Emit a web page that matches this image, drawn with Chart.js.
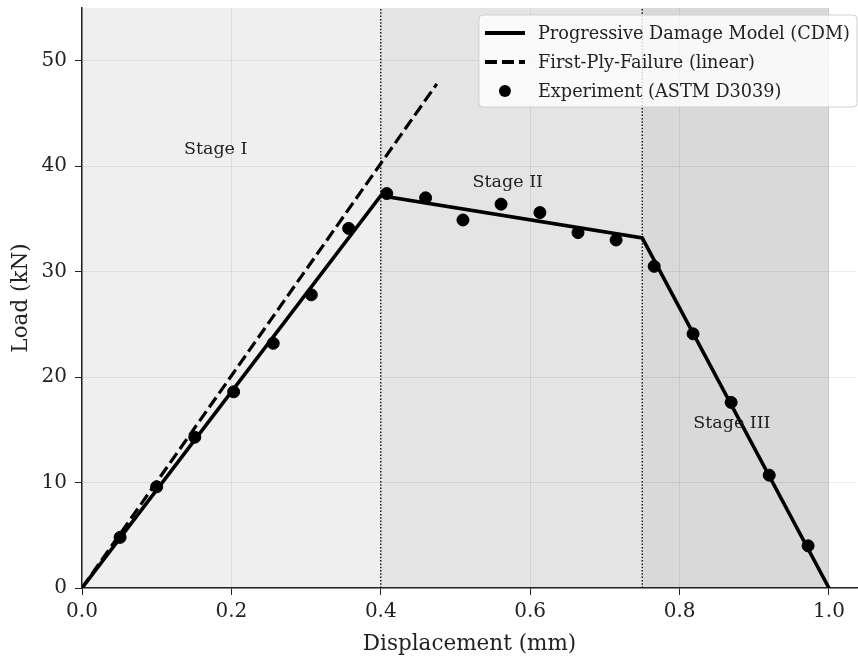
<!DOCTYPE html>
<html>
<head>
<meta charset="utf-8">
<script src="https://cdn.jsdelivr.net/npm/chart.js@4.4.1/dist/chart.umd.min.js"></script>
<style>
  html, body { margin: 0; padding: 0; background: #fff; overflow: hidden; }
  #wrap { width: 858px; height: 661px; position: relative; }
</style>
</head>
<body>
<div id="wrap"><canvas id="chart"></canvas></div>
<script>
// progressive damage model (piecewise linear)
const modelX = [0, 0.4, 0.75, 1.0];
const modelY = [0, 37.2, 33.2, 0];

// first-ply-failure linear prediction
const fpfX = [0, 0.475];
const fpfY = [0, 47.8];

// experimental points (ASTM D3039)
const expX = [0.051, 0.100, 0.151, 0.203, 0.256, 0.307, 0.357, 0.408, 0.460, 0.510,
              0.561, 0.613, 0.664, 0.715, 0.766, 0.818, 0.869, 0.920, 0.972];
const expY = [4.8, 9.6, 14.3, 18.6, 23.2, 27.8, 34.1, 37.4, 37.0, 34.9,
              36.4, 35.6, 33.7, 33.0, 30.5, 24.1, 17.6, 10.7, 4.0];

// stages
const stageBounds = [0, 0.4, 0.75, 1.0];
const stageNames = ['Stage I', 'Stage II', 'Stage III'];
const stageLabelX = [0.179, 0.570, 0.870];
const stageLabelY = [41.6, 38.5, 15.6];
const stageColors = ['#efefef', '#e4e4e4', '#d9d9d9'];

const xTicks = [0, 0.2, 0.4, 0.6, 0.8, 1.0];
const yTicks = [0, 10, 20, 30, 40, 50];

const legendNames = ['Progressive Damage Model (CDM)', 'First-Ply-Failure (linear)', 'Experiment (ASTM D3039)'];

const FONT = "'DejaVu Serif', serif";
const toPts = (xs, ys) => xs.map((x, i) => ({ x: x, y: ys[i] }));

const stages = {
  id: 'stages',
  beforeDraw(chart) {
    const { ctx, chartArea, scales: { x, y } } = chart;
    ctx.save();
    for (let i = 0; i < stageNames.length; i++) {
      const x0 = x.getPixelForValue(stageBounds[i]);
      const x1 = x.getPixelForValue(stageBounds[i + 1]);
      ctx.fillStyle = stageColors[i];
      ctx.fillRect(x0, chartArea.top, x1 - x0, chartArea.bottom - chartArea.top);
    }
    ctx.restore();
  },
  afterDatasetsDraw(chart) {
    const { ctx, scales: { x, y } } = chart;
    ctx.save();
    ctx.font = '17.5px ' + FONT;
    ctx.fillStyle = '#222';
    ctx.textAlign = 'center';
    ctx.textBaseline = 'middle';
    stageNames.forEach((s, i) => {
      ctx.fillText(s, x.getPixelForValue(stageLabelX[i]), y.getPixelForValue(stageLabelY[i]));
    });
    ctx.restore();
  }
};

const legendBox = {
  id: 'legendBox',
  afterDraw(chart) {
    const { ctx, chartArea } = chart;
    ctx.save();
    ctx.font = '17.7px ' + FONT;
    const tw = Math.max(...legendNames.map(t => ctx.measureText(t).width));
    const right = chartArea.right;
    const left = right - (tw + 66);
    const top = chartArea.top + 7;
    const h = 92;
    ctx.beginPath();
    ctx.roundRect(left, top, right - left, h, 4);
    ctx.fillStyle = 'rgba(255,255,255,0.8)';
    ctx.fill();
    ctx.strokeStyle = '#d0d0d0';
    ctx.lineWidth = 1;
    ctx.stroke();

    const rows = [top + 18, top + 47, top + 76];
    ctx.strokeStyle = '#000';
    ctx.lineWidth = 3.8;
    ctx.beginPath();
    ctx.moveTo(left + 6, rows[0]);
    ctx.lineTo(left + 46, rows[0]);
    ctx.stroke();
    ctx.setLineDash([12, 5]);
    ctx.beginPath();
    ctx.moveTo(left + 6, rows[1]);
    ctx.lineTo(left + 46, rows[1]);
    ctx.stroke();
    ctx.setLineDash([]);
    ctx.fillStyle = '#000';
    ctx.beginPath();
    ctx.arc(left + 26, rows[2], 6, 0, Math.PI * 2);
    ctx.fill();

    ctx.fillStyle = '#222';
    ctx.textBaseline = 'middle';
    legendNames.forEach((t, i) => ctx.fillText(t, left + 59, rows[i] + 1));
    ctx.restore();
  }
};

new Chart(document.getElementById('chart'), {
  type: 'line',
  data: {
    datasets: [
      {
        type: 'scatter',
        data: toPts(expX, expY),
        backgroundColor: '#000',
        borderColor: '#000',
        pointRadius: 6,
        pointHoverRadius: 6,
        order: 0
      },
      {
        data: toPts(modelX, modelY),
        borderColor: '#000',
        borderWidth: 3.6,
        pointRadius: 0,
        tension: 0,
        order: 1
      },
      {
        data: toPts(fpfX, fpfY),
        borderColor: '#000',
        borderWidth: 3.2,
        borderDash: [12, 5],
        pointRadius: 0,
        tension: 0,
        order: 2
      },
      {
        data: toPts([stageBounds[1], stageBounds[1]], [0, 55]),
        borderColor: '#000',
        borderWidth: 1.3,
        borderDash: [1.5, 1.8],
        pointRadius: 0,
        order: 3
      },
      {
        data: toPts([stageBounds[2], stageBounds[2]], [0, 55]),
        borderColor: '#000',
        borderWidth: 1.3,
        borderDash: [1.5, 1.8],
        pointRadius: 0,
        order: 3
      }
    ]
  },
  options: {
    animation: false,
    responsive: true,
    maintainAspectRatio: false,
    events: [],
    layout: {
      autoPadding: false,
      padding: { top: 8, right: 1, left: 0, bottom: 0 }
    },
    plugins: {
      legend: { display: false },
      tooltip: { enabled: false }
    },
    scales: {
      x: {
        type: 'linear',
        min: 0,
        max: 1.0375,
        afterBuildTicks(scale) {
          scale.ticks = xTicks.map(v => ({ value: v }));
        },
        afterFit(scale) {
          scale.height = 73;
          scale.paddingLeft = 0;
          scale.paddingRight = 0;
        },
        ticks: {
          callback: v => v.toFixed(1),
          color: '#222',
          padding: 5,
          maxRotation: 0,
          font: { family: FONT, size: 20 }
        },
        grid: {
          color: 'rgba(0,0,0,0.07)',
          tickColor: '#222',
          tickLength: 7,
          lineWidth: 1
        },
        border: { display: true, color: '#222', width: 1.5 },
        title: {
          display: true,
          text: 'Displacement (mm)',
          color: '#222',
          font: { family: FONT, size: 21.5 },
          padding: { top: 0, bottom: 4 }
        }
      },
      y: {
        type: 'linear',
        min: 0,
        max: 55,
        afterBuildTicks(scale) {
          scale.ticks = yTicks.map(v => ({ value: v }));
        },
        afterFit(scale) {
          scale.width = 82;
          scale.paddingTop = 0;
          scale.paddingBottom = 0;
        },
        ticks: {
          color: '#222',
          padding: 8,
          font: { family: FONT, size: 20 }
        },
        grid: {
          color: 'rgba(0,0,0,0.07)',
          tickColor: '#222',
          tickLength: 7,
          lineWidth: 1
        },
        border: { display: true, color: '#222', width: 1.5 },
        title: {
          display: true,
          text: 'Load (kN)',
          color: '#222',
          font: { family: FONT, size: 21.5 },
          padding: { top: 9, bottom: 0 }
        }
      }
    }
  },
  plugins: [stages, legendBox]
});
</script>
</body>
</html>
